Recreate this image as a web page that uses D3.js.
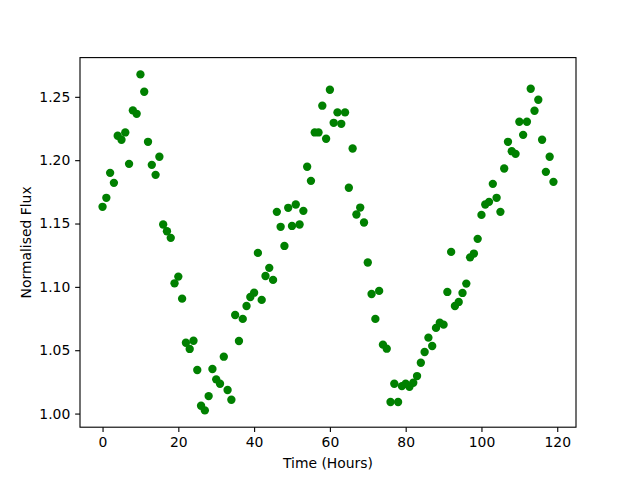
<!DOCTYPE html>
<html>
<head>
<meta charset="utf-8">
<script src="https://cdn.jsdelivr.net/npm/d3@7"></script>
<style>
  html, body { margin: 0; padding: 0; background: #fff; }
  svg { display: block; }
  text { font-family: "DejaVu Sans", sans-serif; fill: #000; }
</style>
</head>
<body>
<svg id="chart" width="640" height="480"></svg>
<script>
// Time in hours (0..119)
const timeHours = d3.range(0, 120);
// Normalised flux
const flux = [
  1.1632, 1.1703, 1.1900, 1.1821, 1.2193, 1.2161, 1.2219, 1.1971, 1.2393, 1.2366,
  1.2677, 1.2540, 1.2145, 1.1963, 1.1884, 1.2027, 1.1492, 1.1439, 1.1387, 1.1028,
  1.1081, 1.0907, 1.0559, 1.0510, 1.0575, 1.0344, 1.0062, 1.0025, 1.0138, 1.0352,
  1.0270, 1.0235, 1.0449, 1.0186, 1.0109, 1.0778, 1.0573, 1.0747, 1.0849, 1.0920,
  1.0954, 1.1268, 1.0897, 1.1086, 1.1150, 1.1055, 1.1592, 1.1474, 1.1323, 1.1624,
  1.1481, 1.1650, 1.1492, 1.1600, 1.1948, 1.1837, 1.2219, 1.2219, 1.2430, 1.2169,
  1.2556, 1.2295, 1.2377, 1.2287, 1.2377, 1.1782, 1.2092, 1.1571, 1.1626, 1.1508,
  1.1192, 1.0944, 1.0747, 1.0968, 1.0544, 1.0512, 1.0091, 1.0235, 1.0091, 1.0217,
  1.0235, 1.0212, 1.0243, 1.0296, 1.0401, 1.0486, 1.0599, 1.0533, 1.0676, 1.0717,
  1.0702, 1.0960, 1.1276, 1.0849, 1.0881, 1.0952, 1.1026, 1.1233, 1.1263, 1.1379,
  1.1568, 1.1650, 1.1671, 1.1813, 1.1703, 1.1592, 1.1934, 1.2145, 1.2071, 1.2050,
  1.2303, 1.2200, 1.2303, 1.2564, 1.2390, 1.2477, 1.2161, 1.1908, 1.2027, 1.1829
];
const xTicks = [0, 20, 40, 60, 80, 100, 120];
const yTicks = [1.00, 1.05, 1.10, 1.15, 1.20, 1.25];
const xLabel = "Time (Hours)";
const yLabel = "Normalised Flux";

const data = timeHours.map((t, i) => ({ t, f: flux[i] }));

const mLeft = 80, mRight = 576, mTop = 57.6, mBottom = 427.2;
const svg = d3.select("#chart");

function padded(ext) {
  const r = ext[1] - ext[0];
  return [ext[0] - 0.05 * r, ext[1] + 0.05 * r];
}
const x = d3.scaleLinear().domain(padded(d3.extent(timeHours))).range([mLeft, mRight]);
const y = d3.scaleLinear().domain(padded(d3.extent(flux))).range([mBottom, mTop]);

const tickLen = 4.86, tickPad = 4.86, fs = "13.9px";

// points
svg.append("g")
  .selectAll("circle")
  .data(data)
  .join("circle")
  .attr("cx", d => x(d.t))
  .attr("cy", d => y(d.f))
  .attr("r", 4.17)
  .attr("fill", "#008000");

// axes
const xAxis = d3.axisBottom(x).tickValues(xTicks).tickFormat(d3.format("d"))
  .tickSizeInner(tickLen).tickSizeOuter(0).tickPadding(tickPad);
const gx = svg.append("g").attr("transform", `translate(0,${mBottom})`).call(xAxis);
const yAxis = d3.axisLeft(y).tickValues(yTicks).tickFormat(d3.format(".2f"))
  .tickSizeInner(tickLen).tickSizeOuter(0).tickPadding(tickPad);
const gy = svg.append("g").attr("transform", `translate(${mLeft},0)`).call(yAxis);

[gx, gy].forEach(g => {
  g.select(".domain").remove();
  g.selectAll(".tick line").attr("stroke", "#000").attr("stroke-width", 1.11);
  g.selectAll(".tick text").attr("font-family", "DejaVu Sans, sans-serif")
    .attr("font-size", fs).attr("fill", "#000");
});

// frame
svg.append("rect")
  .attr("x", mLeft).attr("y", mTop)
  .attr("width", mRight - mLeft).attr("height", mBottom - mTop)
  .attr("fill", "none").attr("stroke", "#000").attr("stroke-width", 1.11);

// labels
svg.append("text")
  .attr("x", (mLeft + mRight) / 2).attr("y", 468)
  .attr("text-anchor", "middle").attr("font-size", fs)
  .text(xLabel);
svg.append("text")
  .attr("transform", `translate(31,${(mTop + mBottom) / 2}) rotate(-90)`)
  .attr("text-anchor", "middle").attr("font-size", fs)
  .text(yLabel);
</script>
</body>
</html>
